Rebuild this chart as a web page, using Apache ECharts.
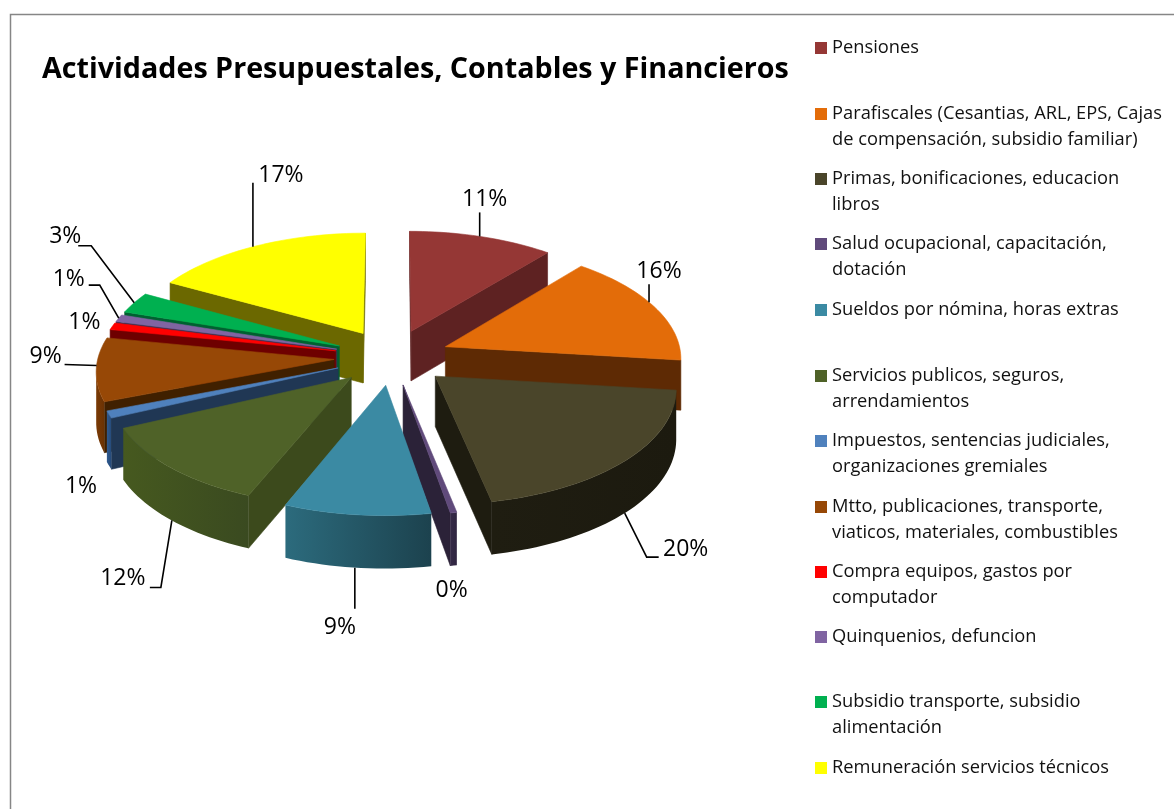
<!DOCTYPE html>
<html><head><meta charset="utf-8">
<style>html,body{margin:0;padding:0;background:#fff}#c{width:1174px;height:809px}</style>
<script src="https://cdn.jsdelivr.net/npm/echarts@6/dist/echarts.min.js"></script>
</head><body><div id="c"></div>
<script>
var titleText = 'Actividades Presupuestales, Contables y Financieros';
var categories = [
 'Pensiones',
 'Parafiscales (Cesantias, ARL, EPS, Cajas\nde compensación, subsidio familiar)',
 'Primas, bonificaciones, educacion\nlibros',
 'Salud ocupacional, capacitación,\ndotación',
 'Sueldos por nómina, horas extras',
 'Servicios publicos, seguros,\narrendamientos',
 'Impuestos, sentencias judiciales,\norganizaciones gremiales',
 'Mtto, publicaciones, transporte,\nviaticos, materiales, combustibles',
 'Compra equipos, gastos por\ncomputador',
 'Quinquenios, defuncion',
 'Subsidio transporte, subsidio\nalimentación',
 'Remuneración servicios técnicos'
];
var values = [11,16,20,0.4,9,12,1,9,1,1,3,17];
var topColors  = ['#953735','#E36C09','#4A452A','#604A7B','#3B8AA3','#4F6228','#4F81BD','#974806','#FF0000','#8064A2','#00B050','#FFFF00'];
var wallColors = ['#5E2222','#5E2A04','#1E1C10','#2B2238','#24596A','#3C4A1C','#203754','#402000','#6E0000','#403152','#006030','#6B6800'];
var rimLeft    = ['#5E2222','#6E3204','#1F1D11','#352A47','#2C6B7D','#46591F','#2F5A90','#7A3A05','#8A0000','#5A4675','#007A38','#8A8600'];
var rimRight   = ['#5E2222','#5E2A04','#1C1A0F','#2F2540','#1C424E','#3A4A20','#264A78','#6A3204','#7A0000','#4A3A62','#006030','#6B6800'];
var legendRowCenters = [46,112,177,242,308,374,439,505,570,635,700,766];
// leader polyline and label text, both as offsets from the slice's rim midpoint
var anchorShiftDeg = [-0.6,-2.6,0.4,0,0.45,-0.3,0,2,0,0,0,-0.9];
var leaderOffsets = [[[0,-24]],[[0,-18]],[[22,44],[34,44]],[],[[0,41]],[[-11,67],[-22,67]],[],[[-32,-1]],[],[[-19,-33],[-30,-33]],[[-43,-57],[-56,-57]],[[0,-64]]];
var labelOffsets = [[5,-37],[10,-31],[61,36],[-2,25],[-15,60],[-49,58],[-28,21],[-51,-9],[-28,-4],[-50,-39],[-69,-66],[28,-71]];

var CX=392, CY=357, R=236, EXPLODE=58, TILT=0.48, PERSP=0.000378, DEPTH=50;
var FONT='"Open Sans"';
var total = values.reduce(function(a,b){return a+b;},0);
var starts=[], acc=0;
values.forEach(function(v){starts.push(acc); acc+=v;});

function project(b,a,r,down){
  var X=EXPLODE*Math.sin(b)+r*Math.sin(a), Y=-(EXPLODE*Math.cos(b)+r*Math.cos(a));
  var s=1/(1-PERSP*Y);
  return [CX+X*s, CY+TILT*Y*s+down*Math.sqrt(s)];
}
function facing(q){
  var t=0;
  for(var i=0;i<q.length;i++){var p=q[i],n=q[(i+1)%q.length];t+=p[0]*n[1]-n[0]*p[1];}
  return t<0;
}
function poly(points,fill,z2){
  return {type:'polygon',z2:z2,shape:{points:points},style:{fill:fill,stroke:fill,lineWidth:0.6}};
}
function sliceRender(i){
  return function(params,api){
    var v=api.value(0), a0=starts[i]/total*2*Math.PI, a1=(starts[i]+v)/total*2*Math.PI, b=(a0+a1)/2;
    var n=Math.max(2,Math.ceil((a1-a0)/0.03)), top=[], bot=[];
    for(var k=0;k<=n;k++){var a=a0+(a1-a0)*k/n; top.push(project(b,a,R,0)); bot.push(project(b,a,R,DEPTH));}
    var apexT=project(b,0,0,0), apexB=project(b,0,0,DEPTH);
    var kids=[];
    var wall0=[apexT,top[0],bot[0],apexB], wall1=[top[n],apexT,apexB,bot[n]];
    if(facing(wall0)) kids.push(poly(wall0,wallColors[i],1));
    if(facing(wall1)) kids.push(poly(wall1,wallColors[i],1));
    var front=[];
    for(k=0;k<n;k++){ if(facing([top[k],top[k+1],bot[k+1],bot[k]])) front.push(k); }
    if(front.length){
      var f=front[0], l=front[front.length-1]+1;
      var upper=top.slice(f,l+1), lower=bot.slice(f,l+1).reverse();
      var xs=upper.map(function(p){return p[0];});
      var grad={type:'linear',global:true,x:Math.min.apply(null,xs),y:0,x2:Math.max.apply(null,xs),y2:0,
        colorStops:[{offset:0,color:rimLeft[i]},{offset:1,color:rimRight[i]}]};
      kids.push({type:'polygon',z2:2,shape:{points:upper.concat(lower)},style:{fill:grad}});
    }
    kids.push(poly([apexT].concat(top),topColors[i],3));
    var deg=b*180/Math.PI, anchor=project(b,b+anchorShiftDeg[i]*Math.PI/180,R,(deg>100&&deg<260)?DEPTH:0);
    var leg=leaderOffsets[i];
    if(leg.length){
      var pts=[anchor].concat(leg.map(function(o){return [anchor[0]+o[0],anchor[1]+o[1]];}));
      kids.push({type:'polyline',z2:4,shape:{points:pts},style:{stroke:'#000',lineWidth:1.6,fill:null}});
    }
    kids.push({type:'text',z2:5,style:{text:Math.round(v/total*100)+'%',x:anchor[0]+labelOffsets[i][0],y:anchor[1]+labelOffsets[i][1],
      fill:'#000',fontSize:23,fontFamily:FONT,textAlign:'center',textVerticalAlign:'middle'}});
    return {type:'group',children:kids};
  };
}
var depthOrder=categories.map(function(c,i){return i;}).sort(function(p,q){
  var bp=(starts[p]+values[p]/2)/total*2*Math.PI, bq=(starts[q]+values[q]/2)/total*2*Math.PI;
  return Math.cos(bq)-Math.cos(bp);
});
var series=depthOrder.map(function(i,rank){
  return {type:'custom',name:categories[i],coordinateSystem:'none',silent:true,animation:false,z:2+rank,
    itemStyle:{color:topColors[i]},data:[[values[i]]],renderItem:sliceRender(i)};
});
var legends=categories.map(function(name,i){
  var two=name.indexOf('\n')>=0, h=two?38:12;
  return {left:815,top:legendRowCenters[i]-11,orient:'vertical',padding:0,selectedMode:false,itemWidth:12,itemHeight:h,
    textStyle:{fontFamily:FONT,fontSize:18.3,color:'#111',lineHeight:26},
    data:[{name:name,icon:'path://M0 0H12V12H0Z'+(two?'M0 38':''),itemStyle:{color:topColors[i]}}]};
});
var chart=echarts.init(document.getElementById('c'),null,{renderer:'canvas'});
chart.setOption({
  backgroundColor:'#fff',animation:false,
  title:{text:titleText,left:42,top:55,padding:0,textStyle:{fontFamily:FONT,fontWeight:'bold',fontSize:28.7,color:'#000'}},
  graphic:[{type:'rect',z:0,silent:true,shape:{x:10.5,y:14.5,width:1400,height:1000},style:{fill:null,stroke:'#868686',lineWidth:1.5}}],
  legend:legends,
  series:series
});
</script></body></html>
